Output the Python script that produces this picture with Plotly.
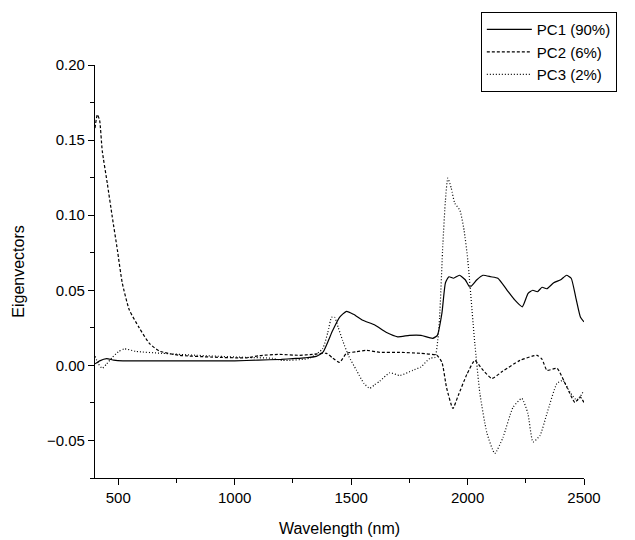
import plotly.graph_objects as go


# --------------------------------------------------------------
# Data
# --------------------------------------------------------------

pc1_wl = [400, 420, 450, 480, 520, 600, 700, 800, 900, 1000, 1100, 1200, 1250, 1300,
          1350, 1380, 1420, 1450, 1480, 1510, 1550, 1600, 1650, 1700, 1750, 1800, 1850,
          1870, 1890, 1905, 1920, 1940, 1965, 1990, 2010, 2040, 2066, 2100, 2130, 2170,
          2200, 2235, 2260, 2280, 2300, 2320, 2340, 2370, 2400, 2425, 2445, 2465, 2485, 2500]
pc1_val = [0.001, 0.003, 0.0045, 0.0035, 0.003, 0.003, 0.003, 0.003, 0.003, 0.003, 0.0035,
           0.004, 0.0045, 0.005, 0.006, 0.009, 0.023, 0.032, 0.036, 0.034, 0.030, 0.027,
           0.022, 0.019, 0.020, 0.020, 0.018, 0.020, 0.035, 0.055, 0.059, 0.058, 0.060,
           0.057, 0.052, 0.057, 0.060, 0.059, 0.058, 0.050, 0.044, 0.039, 0.048, 0.050,
           0.049, 0.052, 0.051, 0.055, 0.057, 0.060, 0.058, 0.045, 0.032, 0.029]

pc2_wl = [400, 410, 420, 431, 453, 474, 496, 517, 547, 590, 633, 676, 762, 904, 1050, 1106,
          1192, 1278, 1334, 1394, 1420, 1450, 1480, 1520, 1567, 1623, 1709, 1800, 1868,
          1890, 1910, 1937, 1960, 1997, 2031, 2060, 2104, 2150, 2225, 2298, 2320, 2341,
          2384, 2427, 2461, 2483, 2500]
pc2_val = [0.158, 0.167, 0.163, 0.143, 0.121, 0.099, 0.077, 0.055, 0.037, 0.025, 0.0147,
           0.0095, 0.0067, 0.0055, 0.005, 0.0065, 0.0073, 0.0067, 0.0073, 0.008, 0.005,
           0.002, 0.008, 0.009, 0.010, 0.0087, 0.0087, 0.008, 0.0067, 0.002, -0.015,
           -0.0287, -0.020, -0.006, 0.0033, -0.002, -0.0087, -0.004, 0.0033, 0.0067,
           0.004, -0.0033, -0.002, -0.0147, -0.0247, -0.021, -0.0247]

pc3_wl = [400, 415, 431, 450, 474, 500, 526, 577, 689, 835, 1050, 1162, 1205, 1321, 1377,
          1400, 1416, 1429, 1445, 1463, 1490, 1523, 1555, 1580, 1600, 1623, 1666, 1709,
          1765, 1800, 1838, 1860, 1872, 1880, 1894, 1905, 1915, 1930, 1945, 1967, 1985,
          2001, 2031, 2053, 2083, 2117, 2152, 2195, 2233, 2259, 2281, 2311, 2341, 2384,
          2410, 2440, 2470, 2500]
pc3_val = [0.006, 0.001, -0.002, 0.001, 0.0053, 0.009, 0.011, 0.0093, 0.008, 0.0067,
           0.0053, 0.0047, 0.0033, 0.0047, 0.011, 0.022, 0.032, 0.032, 0.025, 0.0167,
           0.006, -0.0033, -0.012, -0.0153, -0.013, -0.0105, -0.005, -0.0067, -0.0033,
           -0.001, 0.0047, 0.0053, 0.0167, 0.032, 0.081, 0.11, 0.1247, 0.118, 0.108,
           0.1033, 0.09, 0.07, 0.0147, -0.0187, -0.045, -0.0587, -0.048, -0.028, -0.022,
           -0.032, -0.051, -0.0467, -0.032, -0.012, -0.01, -0.018, -0.0233, -0.0167]

series = [
    ("PC1 (90%)", pc1_wl, pc1_val, "solid"),
    ("PC2 (6%)", pc2_wl, pc2_val, "3px,2px"),
    ("PC3 (2%)", pc3_wl, pc3_val, "1px,2px"),
]


# --------------------------------------------------------------
# Plot
# --------------------------------------------------------------

font = "Liberation Sans, Arial, sans-serif"

fig = go.Figure()
for name, wl, val, dash in series:
    fig.add_trace(go.Scatter(x=wl, y=val, mode="lines", name=name,
                             line=dict(color="black", width=1.2, dash=dash,
                                       shape="spline", smoothing=0.5)))

axis_common = dict(showline=True, linecolor="black", linewidth=1.2, showgrid=False,
                   zeroline=False, ticks="outside", ticklen=6, tickcolor="black",
                   tickwidth=1.2, tickfont=dict(size=15, color="black"),
                   automargin=False)

fig.update_xaxes(range=[400, 2500], dtick=500, tick0=0,
                 minor=dict(dtick=250, ticks="outside", ticklen=4, tickcolor="black"),
                 title=dict(text="Wavelength (nm)", font=dict(size=16, color="black"),
                            standoff=17),
                 **axis_common)
fig.update_yaxes(range=[-0.075, 0.20], dtick=0.05, tick0=0, tickformat=".2f",
                 minor=dict(dtick=0.025, ticks="outside", ticklen=4, tickcolor="black"),
                 title=dict(text="Eigenvectors", font=dict(size=16, color="black"),
                            standoff=18),
                 **axis_common)

# page body adds an 8px offset, margins are set with that in mind
fig.update_layout(
    width=635, height=540,
    margin=dict(l=87, r=59, t=57, b=70, autoexpand=False),
    plot_bgcolor="white", paper_bgcolor="white",
    font=dict(family=font, color="black"),
    legend=dict(x=0.789, y=1.128, xanchor="left", yanchor="top",
                bordercolor="black", borderwidth=1, bgcolor="white",
                font=dict(size=15), itemwidth=45),
)

fig.write_html("out.html")
